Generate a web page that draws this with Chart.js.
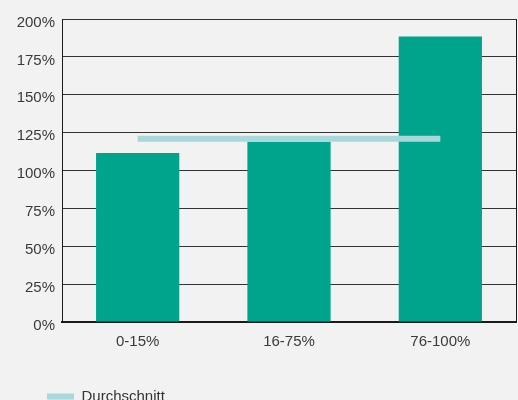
<!DOCTYPE html>
<html>
<head>
<meta charset="utf-8">
<script src="https://cdn.jsdelivr.net/npm/chart.js@4/dist/chart.umd.min.js"></script>
<style>
  html, body { margin: 0; padding: 0; background: #f2f2f2; overflow: hidden; }
  #wrap { width: 518px; height: 400px; }
</style>
</head>
<body>
<div id="wrap"><canvas id="chart"></canvas></div>
<script>
// Data
const categories = ['0-15%', '16-75%', '76-100%'];
const barValues = [111.5, 119, 188.5];
const averageValues = [121, 121, 121];
const yTicks = [0, 25, 50, 75, 100, 125, 150, 175, 200];

const fontFamily = '"Liberation Sans", Arial, sans-serif';
const avgColor = '#a9d7db';

// legend sits lower and further right than Chart.js would put it
const moveLegend = {
    id: 'moveLegend',
    afterLayout(chart) {
        const lg = chart.legend;
        const h = lg.height;
        lg.left = 37;
        lg.top = 379;
        lg.bottom = lg.top + h;
    }
};

new Chart(document.getElementById('chart').getContext('2d'), {
    data: {
        labels: categories,
        datasets: [
            {
                type: 'line',
                label: 'Durchschnitt',
                data: averageValues,
                borderColor: avgColor,
                backgroundColor: avgColor,
                borderWidth: 6,
                pointRadius: 0,
                order: 0
            },
            {
                type: 'bar',
                label: 'Wert',
                data: barValues,
                backgroundColor: '#00a38b',
                barPercentage: 0.55,
                categoryPercentage: 1,
                order: 1
            }
        ]
    },
    options: {
        responsive: true,
        maintainAspectRatio: false,
        animation: false,
        layout: { padding: { top: 19, right: 2, left: 0, bottom: 0 } },
        plugins: {
            tooltip: { enabled: false },
            legend: {
                position: 'bottom',
                align: 'start',
                maxHeight: 30,
                labels: {
                    boxWidth: 27,
                    boxHeight: 6,
                    padding: 10,
                    color: '#333',
                    font: { family: fontFamily, size: 15 },
                    generateLabels: chart => [{
                        text: chart.data.datasets[0].label,
                        fillStyle: avgColor,
                        strokeStyle: avgColor,
                        lineWidth: 0,
                        fontColor: '#333',
                        datasetIndex: 0
                    }]
                }
            }
        },
        scales: {
            x: {
                grid: { display: false },
                border: { display: true, color: '#1a1a1a', width: 2 },
                ticks: { color: '#3a3a3a', padding: 3, font: { family: fontFamily, size: 15 } },
                afterFit: axis => { axis.height = 48; }
            },
            y: {
                min: 0,
                max: 200,
                afterBuildTicks: axis => { axis.ticks = yTicks.map(v => ({ value: v })); },
                grid: { color: '#333', lineWidth: 1, drawTicks: false },
                border: { display: true, color: '#1a1a1a', width: 1 },
                ticks: {
                    color: '#3a3a3a',
                    padding: 7,
                    // empty first line pushes the label a few px below its grid line, as in the original
                    font: { family: fontFamily, size: 15, lineHeight: '7px' },
                    callback: v => ['', v + '%']
                },
                afterFit: axis => { axis.width = 62; }
            },
            y2: {
                position: 'right',
                display: true,
                grid: { display: false },
                ticks: { display: false },
                border: { display: true, color: '#1a1a1a', width: 1 },
                afterFit: axis => { axis.width = 0; }
            }
        }
    },
    plugins: [moveLegend]
});
</script>
</body>
</html>
